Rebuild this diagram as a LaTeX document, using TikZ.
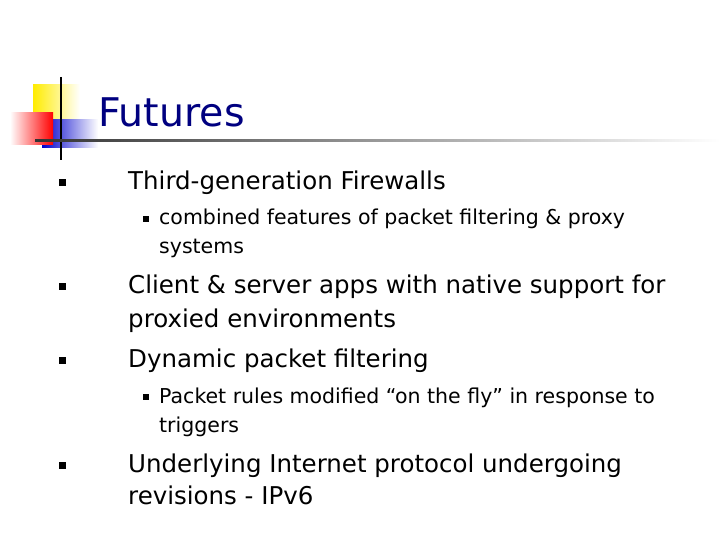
\documentclass[tikz,border=0pt]{standalone}
\usepackage{fontspec}
\setmainfont{DejaVu Sans}
\begin{document}
\begin{tikzpicture}[x=1pt,y=-1pt,
  lone/.style={anchor=base west,inner sep=0pt,font=\fontsize{24.5}{28}\selectfont},
  ltwo/.style={anchor=base west,inner sep=0pt,font=\fontsize{20.5}{24}\selectfont},
  bone/.style={fill=black,minimum size=7pt,inner sep=0pt},
  btwo/.style={fill=black,minimum size=6pt,inner sep=0pt}]
\useasboundingbox (0,0) rectangle (720,540);
% logo
\fill[left color=yellow!85!orange, right color=white] (33,85) rectangle (80,122);
\fill[left color=blue!80!black, right color=white] (42,120) rectangle (98,148);
\fill[left color=white, right color=red] (10,113) rectangle (53,145);
\draw[line width=2pt] (61,77) -- (61,160);
\shade[left color=black!80, right color=white] (35,140) rectangle (720,142);
\node[anchor=base west,inner sep=0pt,text=blue!50!black,font=\fontsize{39.5}{44}\selectfont] (t) at (98,127) {Futures};
% bullets
\node[bone] (b1) at (62,183) {}; \node[lone] (l1) at (128,190) {Third-generation Firewalls};
\node[btwo] (b2) at (146,219) {}; \node[ltwo] (l2) at (159,225) {combined features of packet filtering \& proxy};
\node[ltwo] (l2b) at (159,254) {systems};
\node[bone] (b3) at (62,286) {}; \node[lone] (l3) at (128,293) {Client \& server apps with native support for};
\node[lone] (l3b) at (128,327) {proxied environments};
\node[bone] (b4) at (62,360) {}; \node[lone] (l4) at (128,367) {Dynamic packet filtering};
\node[btwo] (b5) at (146,397) {}; \node[ltwo] (l5) at (159,403) {Packet rules modified “on the fly” in response to};
\node[ltwo] (l5b) at (159,432) {triggers};
\node[bone] (b6) at (62,465) {}; \node[lone] (l6) at (128,472) {Underlying Internet protocol undergoing};
\node[lone] (l6b) at (128,504) {revisions - IPv6};
\end{tikzpicture}
\end{document}
